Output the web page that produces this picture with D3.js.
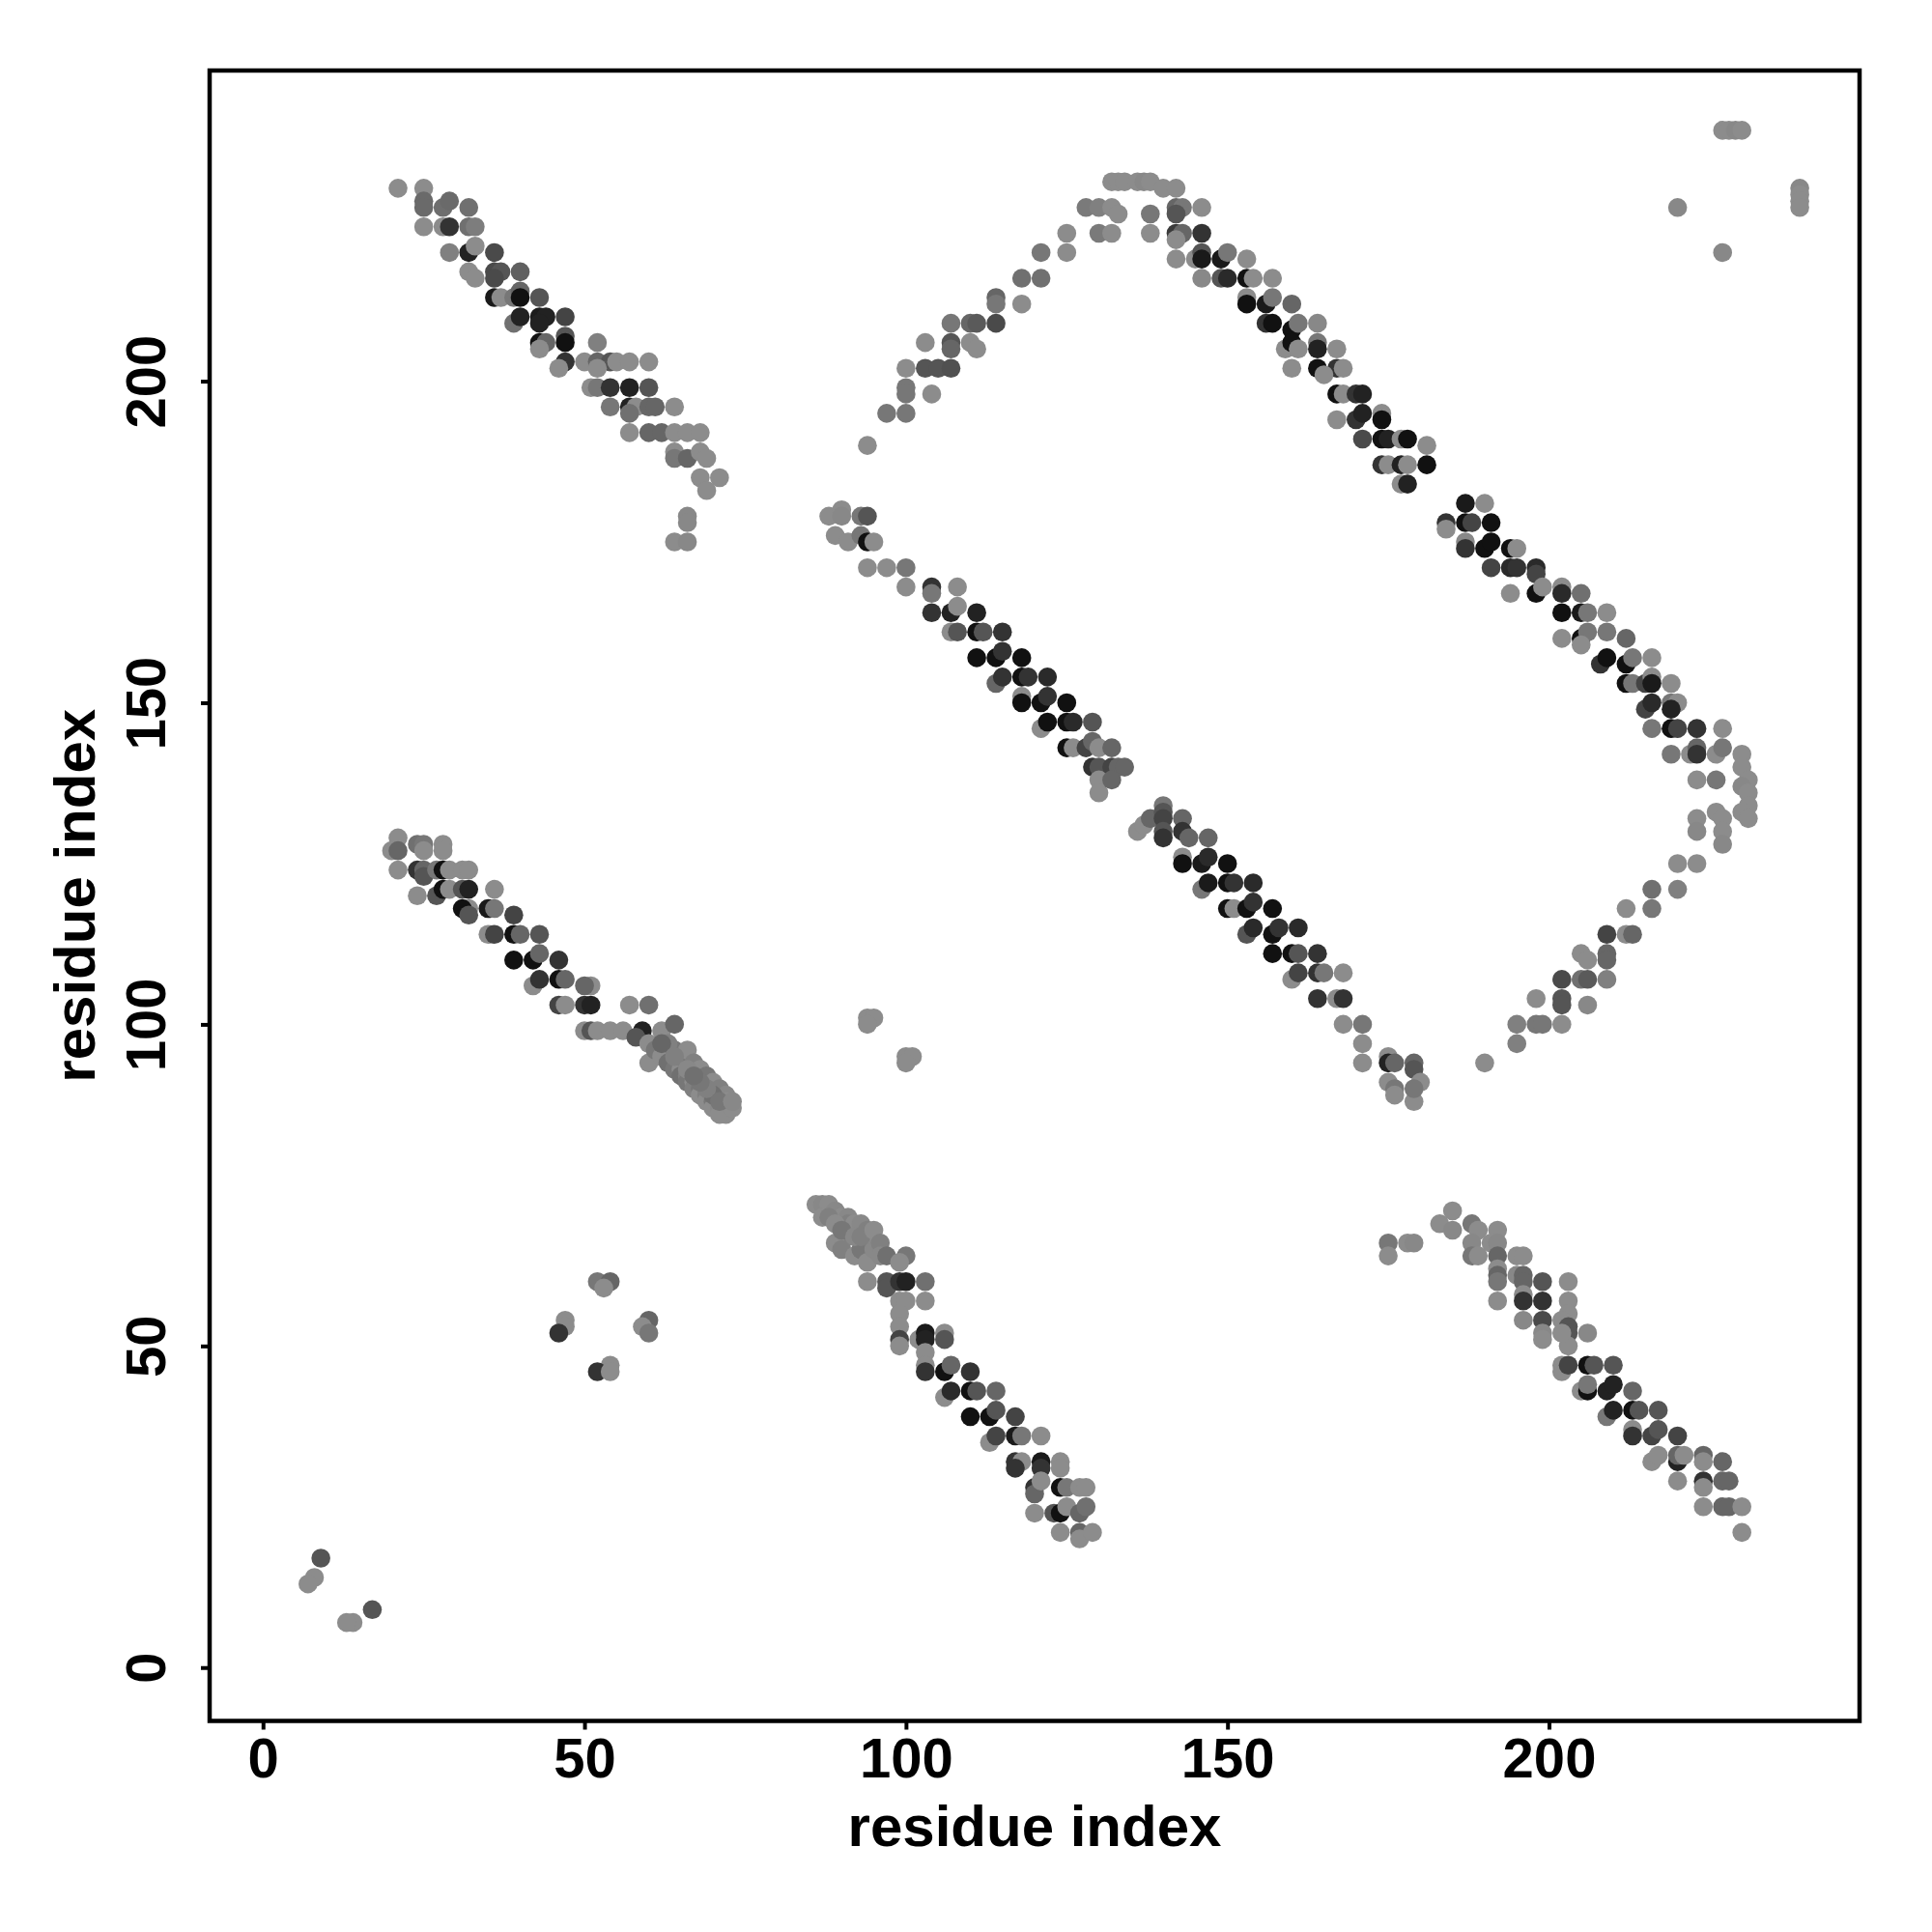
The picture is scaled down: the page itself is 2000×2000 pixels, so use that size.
<!DOCTYPE html>
<html>
<head>
<meta charset="utf-8">
<script src="https://cdn.jsdelivr.net/npm/d3@7"></script>
<style>
html,body{margin:0;padding:0;background:#fff;}
svg{display:block;}
</style>
</head>
<body>
<script>
// each entry: [residue i, residue j, gray level]
const upperLeftBand = [
[21,230,140],[25,230,140],[25,228,106],[25,227,106],[28,227,110],[29,228,106],[32,227,112],
[25,224,140],[28,224,140],[29,224,51],[32,224,112],[33,224,125],
[29,220,128],[32,220,34],[33,221,140],[36,220,74],
[32,217,140],[33,216,140],[36,217,74],[37,217,85],[40,217,96],[36,216,74],
[36,213,26],[37,213,140],[39,213,119],[40,214,102],[40,213,17],[43,213,85],
[39,209,112],[40,210,34],[43,210,28],[44,210,34],[43,209,34],[47,210,68],
[52,206,128],[43,206,17],[44,206,102],[47,207,85],[47,206,17],[43,205,140],
[47,203,51],[46,202,140],[50,203,140],[52,203,102],[54,203,85],[55,203,140],[57,203,140],[60,203,140],[52,202,140],
[51,199,140],[52,199,119],[54,199,51],[57,199,34],[60,199,85],
[54,196,119],[57,196,34],[58,196,140],[60,196,102],[61,196,102],[64,196,140],[57,195,112],
[57,192,140],[60,192,102],[62,192,102],[64,192,140],[66,192,140],[68,192,140],
[64,189,140],[64,188,119],[66,188,102],[68,189,140],[69,188,140],
[68,185,140],[71,185,140],[69,183,140],
[66,179,136],[66,178,136],[64,175,140],[66,175,136]
];
const arcAscending = [
[94,190,140],[97,195,119],[100,195,119],[100,199,119],[100,198,119],[104,198,140],
[100,202,140],[103,202,85],[105,202,85],[107,202,80],
[103,206,140],[107,206,85],[107,205,102],[110,206,140],[111,205,140],
[107,209,119],[110,209,102],[111,209,90],[114,209,74],
[114,213,102],[114,212,119],[118,212,140],
[118,216,112],[121,216,112],[121,220,119],[125,220,140],[125,223,140],
[128,227,122],[130,227,128],[132,227,140],[133,226,140],[130,223,122],[132,223,140],
[132,231,140],[133,231,140],[134,231,140],[136,231,140],[137,231,136],[138,231,140],[140,230,140],[142,230,140],
[138,226,119],[138,223,140]
];
const arcDescending = [
[142,227,102],[143,227,119],[142,226,85],[146,227,140],
[142,223,58],[143,223,102],[142,222,140],[146,223,51],
[142,219,140],[145,219,140],[146,220,85],[146,219,26],
[149,219,26],[150,220,119],[153,219,140],
[146,216,136],[149,216,85],[150,216,42],[153,216,17],[154,216,140],[157,216,140],
[153,213,140],[153,212,17],[156,212,26],[157,213,119],[160,212,102],
[156,209,51],[157,209,17],[160,208,17],[161,209,119],
[159,205,140],[160,206,17],[161,205,140],[160,202,140],
[164,209,136],[164,206,119],[164,205,34],[167,205,140],
[164,202,17],[167,202,51],[168,202,140],[165,201,140],
[167,198,17],[168,198,140],[170,198,51],[171,198,34],
[167,194,140],[170,194,51],[171,195,34],[174,195,140],[174,194,17],
[171,191,74],[174,191,17],[175,191,34],[177,191,140],[178,191,17],[181,190,140],
[174,187,51],[175,187,140],[177,187,34],[178,187,140],[181,187,17],
[177,184,140],[178,184,34],
[187,181,26],[190,181,140],
[184,178,51],[187,178,17],[188,178,68],[191,178,17],[184,177,140],
[187,175,136],[187,174,51],[190,174,17],[191,175,17],[194,174,17],[195,174,140],
[191,171,68],[194,171,42],[195,171,51],[198,171,42],[198,170,68],
[194,167,140],[198,167,17],[199,168,140],[202,168,140],[202,167,42],[205,167,112],
[202,164,17],[205,164,26],[206,164,119],[209,164,140],
[202,160,140],[205,160,17],[206,161,119],[209,161,119],[212,160,102],[205,159,140],
[208,156,51],[209,157,17],[212,156,17],[213,157,119],[216,157,140],
[212,153,17],[213,153,119],[215,153,68],[216,154,140],[216,153,26],[219,153,140],
[215,149,68],[216,150,42],[219,150,119],[220,150,140],[219,149,34],
[216,146,119],[219,146,17],[220,146,68],[223,146,51],[227,146,140],
[219,142,119],[222,142,140],[223,143,102],[223,142,51],[226,142,140],[227,143,119],
[230,142,140],[230,140,140],[231,138,140],[230,137,136],[231,136,140],[231,134,140],[230,133,140],[231,132,140]
];
const arcReturn = [
[223,138,140],[226,138,119],
[223,132,140],[223,130,136],[226,133,140],[227,132,140],[227,130,140],[227,128,136],
[220,125,140],[223,125,140],
[216,121,112],[220,121,128],
[212,118,140],[216,118,119],
[209,114,68],[212,114,140],[213,114,102],
[205,111,140],[206,110,140],[209,111,102],[209,110,102],
[202,107,74],[205,107,112],[206,107,90],[209,107,128],
[198,104,140],[202,104,85],[202,103,85],[206,103,136],
[195,100,128],[198,100,119],[199,100,119],[202,100,140],
[195,97,128],[190,94,140]
];
const middleDiagonal = [
[88,179,140],[90,180,140],[90,179,136],[93,179,119],[94,179,85],
[89,176,140],[91,175,140],[93,176,119],[94,175,17],[95,175,140],
[94,171,140],[97,171,140],[100,171,119],
[100,168,140],[104,168,51],[104,167,119],[108,168,140],
[104,164,51],[107,164,34],[108,165,140],[111,164,34],
[107,161,140],[108,161,85],[111,161,17],[112,161,85],[115,161,51],
[111,157,17],[114,157,17],[115,158,51],[118,157,17],
[114,153,102],[115,154,51],[118,154,17],[119,154,51],[122,154,42],
[118,151,140],[118,150,17],[121,150,17],[122,151,51],[125,150,17],
[121,146,140],[122,147,17],[125,147,17],[126,147,42],[129,147,85],
[125,143,17],[126,143,140],[128,143,68],[129,144,102],[130,143,140],[132,143,102],
[129,140,51],[130,140,85],[132,140,68],[133,140,102],[134,140,102],
[130,138,140],[130,136,140],[132,138,102],
[136,130,140],[137,131,140],[138,132,102],[140,134,119],[140,133,85],[140,132,68],[140,130,85],[140,129,51],
[143,132,102],[143,130,51],[144,129,102],[147,129,102],
[143,126,140],[143,125,17],[146,125,26],[147,126,42],[150,125,17],
[146,121,119],[147,122,26],[150,122,17],[151,122,51],[154,122,42],
[150,118,17],[151,118,140],[153,118,17],[154,119,51],[157,118,17],
[153,114,85],[154,115,42],[157,114,17],[158,115,51],[161,115,42],
[157,111,17],[160,111,17],[161,111,85],
[160,107,140],[161,108,68],
[164,111,51],[164,108,51],[165,108,119],[168,108,140],
[164,104,51],[167,104,140],[168,104,51],
[168,100,140],[171,100,119],[171,97,140],[171,94,140],
[175,95,140],[175,94,34],[176,94,102],[175,91,140],[176,90,119],[176,89,140],
[179,94,102],[179,93,85],[180,91,140],[179,88,140],[179,90,119]
];
const middleIsolated = [
[94,101,140],[95,101,140],[94,100,140],[100,95,140],[101,95,140],[100,94,140]
];
const middleLeftBand = [
[21,129,140],[20,127,140],[21,127,102],[21,124,140],
[24,128,112],[25,128,119],[25,127,140],[28,128,140],[28,127,140],
[24,124,51],[25,124,102],[25,123,85],[27,124,119],[28,124,17],[29,124,140],[31,124,140],[32,124,140],
[24,120,140],[27,120,85],[28,121,17],[29,121,140],[31,121,85],[32,121,34],
[32,118,140],[31,118,17],[32,117,85],[36,121,140],
[35,118,26],[36,118,119],[39,117,68],
[35,114,140],[36,114,68],[39,114,17],[40,114,102],[43,114,85],
[39,110,17],[42,110,17],[43,111,102],[46,110,51],
[42,106,140],[43,107,51],[46,107,17],[47,107,102],
[46,103,68],[47,103,140],[50,103,51],[51,106,140],[50,106,102],[51,103,34],
[50,99,140],[51,99,85],[52,99,140],[54,99,140],[56,99,140],
[57,103,140],[60,103,112],[59,99,34],[58,98,85],
[60,97,140],[62,99,140],[64,100,102],[60,94,140],
[61,96,119],[62,95,140],[63,94,112],[64,93,119],[65,93,140],[65,92,112],[66,92,128],[66,91,119],
[67,91,140],[67,90,128],[68,90,119],[68,89,140],[69,89,128],[69,88,140],[70,88,119],[70,87,140],
[71,87,136],[72,86,140],[71,86,140],[64,96,119],[66,94,136],
[63,97,128],[65,95,119],[66,96,140],[67,94,128],[68,93,140],[69,92,119],[70,91,140],[71,90,128],
[72,89,136],[72,88,140],[73,87,140],[70,89,112],[69,90,128],[68,91,119],[71,88,119],[73,88,136],
[62,97,102],[64,95,128],[66,93,136],[67,92,112]
];
const lowerLeftBits = [
[52,60,119],[54,60,102],[53,59,140],[47,54,140],[47,53,140],[46,52,51],
[60,54,102],[59,53,140],[60,52,119],[54,47,140],[52,46,51],[54,46,140],
[9,17,85],[8,14,140],[7,13,140],[17,9,85],[14,7,140],[13,7,140]
];
const lowerMiddleBand = [
[86,72,140],[87,72,136],[88,72,140],[87,70,140],[89,71,136],[90,70,140],[91,70,136],[91,69,128],
[92,69,140],[93,69,136],[94,68,128],[94,67,140],[95,66,140],[91,67,128],[89,66,140],[90,65,128],
[92,64,140],[93,65,119],[94,63,140],[95,65,136],
[88,70,128],[89,69,140],[90,68,119],[92,67,136],[93,67,128],[95,68,140],[96,66,128],[96,64,136],
[97,64,112],[100,64,119],[99,63,140],
[94,60,140],[97,60,85],[97,59,85],[99,60,51],[100,60,34],[103,60,112],
[99,57,140],[100,57,140],[103,57,140],
[99,55,140],[99,53,140],[99,51,68],[99,50,140],
[102,51,140],[103,52,26],[103,51,34],[103,49,140],[106,52,140],[106,51,85],
[103,47,140],[103,46,51],[106,46,17],[107,47,102],[110,46,51],
[106,42,140],[107,43,42],[110,43,17],[111,43,85],[114,43,102],
[110,39,17],[113,39,17],[114,40,85],[117,39,68],
[113,35,140],[114,36,68],[117,36,26],[118,36,119],[121,36,140],
[117,32,51],[118,32,140],[117,31,51],[121,32,26],[121,31,51],[124,32,140],[124,31,140],
[120,28,51],[120,27,102],[121,29,140],[124,28,17],[125,28,119],[127,28,140],[128,28,140],
[120,24,140],[123,24,85],[124,24,17],[125,25,140],[127,24,102],[128,25,112],
[124,21,140],[127,21,102],[127,20,140],[129,21,140]
];
const lowerRightBand = [
[175,66,119],[175,64,140],[178,66,140],[179,66,136],
[183,69,140],[185,71,140],[185,68,136],
[188,69,119],[189,68,140],[188,66,136],[188,64,119],[189,64,140],
[192,68,140],[191,66,140],[192,66,136],[192,64,102],[192,62,140],[192,61,102],[192,60,119],[192,57,140],
[195,64,140],[196,64,140],
[195,61,136],[196,61,102],[196,60,102],[196,58,140],[196,57,51],
[199,60,85],[199,57,51],
[196,54,136],[199,54,74],[199,52,136],[199,51,140],
[203,60,140],[203,57,140],[203,55,140],[202,54,140],[203,53,85],[203,52,85],[203,50,140],[202,52,140],
[206,52,136],
[202,47,140],[202,46,140],[203,47,68],
[206,47,17],[207,47,85],[210,47,85],
[205,43,140],[206,43,17],[206,44,119],[209,43,34],[210,44,34],[213,43,102],
[209,39,119],[210,40,34],[213,40,17],[214,40,85],[217,40,85],
[213,37,140],[213,36,51],[216,36,68],[217,37,85],[220,36,68],
[216,32,140],[217,33,140],[220,32,34],[220,33,102],[221,33,140],[224,33,102],[224,32,140],[227,32,102],
[220,29,140],[224,29,51],[224,28,140],[227,29,102],[228,29,102],
[224,25,140],[227,25,102],[228,25,102],[230,25,140],
[230,21,140]
];
const topRightBits = [
[227,239,140],[228,239,140],[229,239,136],[230,239,140],[220,227,136],[227,220,136],
[239,230,136],[239,229,140],[239,228,140],[239,227,140]
];
const tickValues = [0, 50, 100, 150, 200];
const axisTitleX = "residue index";
const axisTitleY = "residue index";

(function () {
  const allPoints = [].concat(upperLeftBand, arcAscending, arcDescending, arcReturn,
    middleDiagonal, middleIsolated, middleLeftBand, lowerLeftBits, lowerMiddleBand,
    lowerRightBand, topRightBits);

  const W = 2000, H = 2000;
  const pL = 217, pR = 1925, pT = 73, pB = 1781.5;
  const domain = [-8.3, 248.3];
  const x = d3.scaleLinear().domain(domain).range([pL, pR]);
  const y = d3.scaleLinear().domain(domain).range([pB, pT]);

  const svg = d3.select("body").append("svg").attr("width", W).attr("height", H);
  svg.append("rect").attr("width", W).attr("height", H).attr("fill", "#fff");

  const font = "'Liberation Sans', Arial, Helvetica, sans-serif";

  svg.append("g").selectAll("circle").data(allPoints).join("circle")
    .attr("cx", d => x(d[0]))
    .attr("cy", d => y(d[1]))
    .attr("r", 9.8)
    .attr("fill", d => d3.rgb(d[2], d[2], d[2]).toString());

  // x axis
  const gx = svg.append("g").attr("transform", `translate(0,${pB})`)
    .call(d3.axisBottom(x).tickValues(tickValues).tickSize(9).tickFormat(d3.format("d")));
  gx.select(".domain").remove();
  gx.selectAll(".tick line").attr("stroke", "#000").attr("stroke-width", 4);
  gx.selectAll(".tick text")
    .attr("y", 58.5).attr("dy", null)
    .attr("font-family", font).attr("font-weight", "bold").attr("font-size", 58)
    .attr("fill", "#000");

  // y axis
  const gy = svg.append("g").attr("transform", `translate(${pL},0)`)
    .call(d3.axisLeft(y).tickValues(tickValues).tickSize(9).tickFormat(d3.format("d")));
  gy.select(".domain").remove();
  gy.selectAll(".tick line").attr("stroke", "#000").attr("stroke-width", 4);
  gy.selectAll(".tick text")
    .attr("x", 0).attr("dy", null).attr("y", -46)
    .attr("transform", "rotate(-90)")
    .attr("text-anchor", "middle")
    .attr("font-family", font).attr("font-weight", "bold").attr("font-size", 58)
    .attr("fill", "#000");

  // frame
  svg.append("rect")
    .attr("x", pL).attr("y", pT)
    .attr("width", pR - pL).attr("height", pB - pT)
    .attr("fill", "none").attr("stroke", "#000").attr("stroke-width", 4.5);

  // axis titles
  svg.append("text")
    .attr("x", (pL + pR) / 2).attr("y", 1911)
    .attr("text-anchor", "middle")
    .attr("font-family", font).attr("font-weight", "bold").attr("font-size", 60)
    .text(axisTitleX);
  svg.append("text")
    .attr("transform", `translate(98,${(pT + pB) / 2}) rotate(-90)`)
    .attr("text-anchor", "middle")
    .attr("font-family", font).attr("font-weight", "bold").attr("font-size", 60)
    .text(axisTitleY);
})();
</script>
</body>
</html>
